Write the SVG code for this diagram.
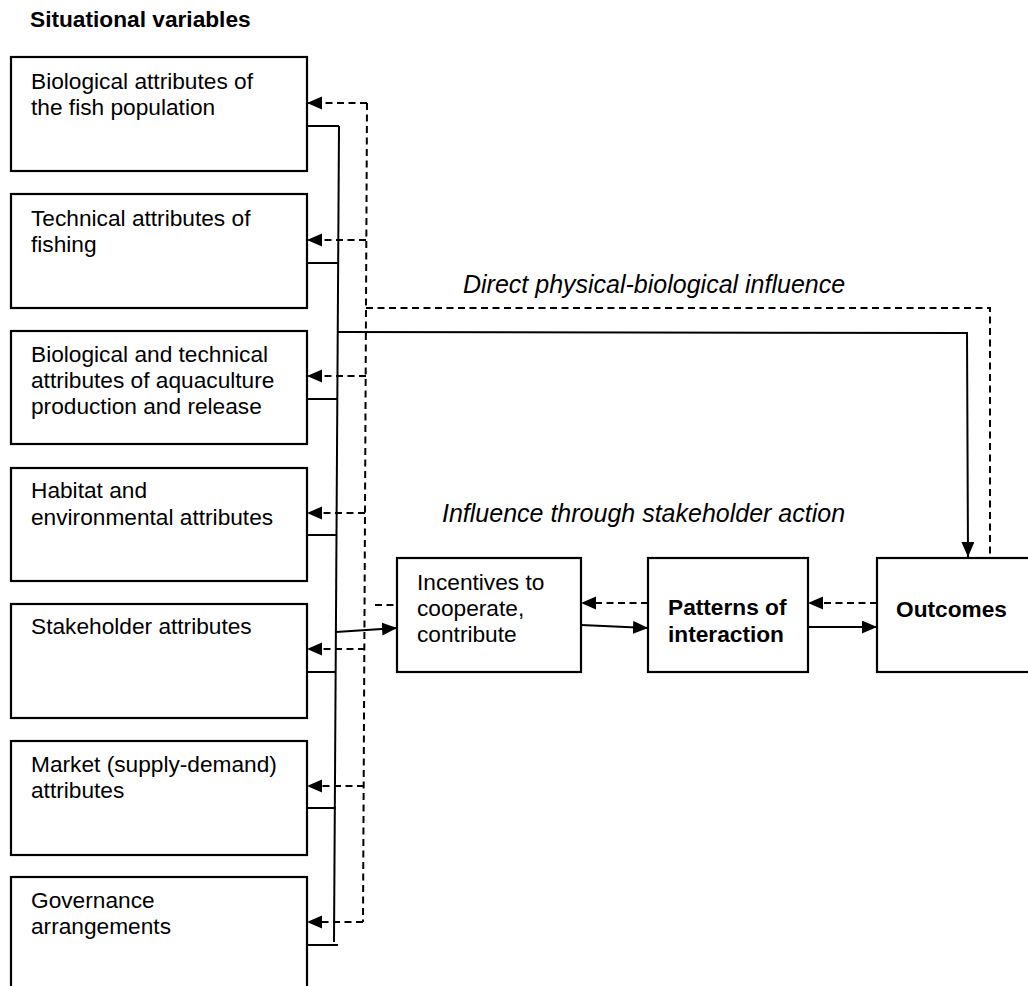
<svg xmlns="http://www.w3.org/2000/svg" width="1028" height="986" viewBox="0 0 1028 986">
<style>
text{font-family:"Liberation Sans",Arial,sans-serif;font-size:22.7px;fill:#000}
.b{font-weight:bold}
.i{font-style:italic;font-size:25px}
.box{fill:#fff;stroke:#000;stroke-width:2.2}
.s{fill:none;stroke:#000;stroke-width:2}
.d{fill:none;stroke:#000;stroke-width:2;stroke-dasharray:7,4.5}
</style>
<defs>
<marker id="ah" markerUnits="userSpaceOnUse" markerWidth="16" markerHeight="14" refX="15" refY="6.5" orient="auto">
<path d="M0,0 L15,6.5 L0,13 z" fill="#000"/>
</marker>
</defs>
<text class="b" x="30" y="27">Situational variables</text>
<g id="n1"><rect class="box" x="11" y="57" width="296" height="114"/><text x="31" y="89">Biological attributes of</text><text x="31" y="115">the fish population</text></g>
<g id="n2"><rect class="box" x="11" y="194" width="296" height="114"/><text x="31" y="226">Technical attributes of</text><text x="31" y="252">fishing</text></g>
<g id="n3"><rect class="box" x="11" y="331" width="296" height="113"/><text x="31" y="362">Biological and technical</text><text x="31" y="388">attributes of aquaculture</text><text x="31" y="414">production and release</text></g>
<g id="n4"><rect class="box" x="11" y="468" width="296" height="113"/><text x="31" y="498">Habitat and</text><text x="31" y="525">environmental attributes</text></g>
<g id="n5"><rect class="box" x="11" y="604" width="296" height="114"/><text x="31" y="634">Stakeholder attributes</text></g>
<g id="n6"><rect class="box" x="11" y="741" width="296" height="114"/><text x="31" y="772">Market (supply-demand)</text><text x="31" y="798">attributes</text></g>
<g id="n7"><rect class="box" x="11" y="877" width="296" height="130"/><text x="31" y="908">Governance</text><text x="31" y="934">arrangements</text></g>
<g id="incentives"><rect class="box" x="397" y="558" width="184" height="114"/><text x="417" y="590">Incentives to</text><text x="417" y="616">cooperate,</text><text x="417" y="642">contribute</text></g>
<g id="patterns"><rect class="box" x="648" y="558" width="160" height="114"/><text class="b" x="668" y="615">Patterns of</text><text class="b" x="668" y="642">interaction</text></g>
<g id="outcomes"><rect class="box" x="877" y="558" width="160" height="114"/><text class="b" x="896" y="617">Outcomes</text></g>
<text class="i" x="463" y="293">Direct physical-biological influence</text>
<text class="i" x="442" y="522">Influence through stakeholder action</text>
<g id="connectors">
<path class="s" d="M339,126 L334,942"/>
<path class="s" d="M307,126 H339 M307,263 H338 M307,399 H338 M307,535 H337 M307,672 H336 M307,808 H336 M307,945 H338"/>
<path class="s" d="M338,332 L967,333 L968,557" marker-end="url(#ah)"/>
<path class="s" d="M336,632 L397,628" marker-end="url(#ah)"/>
<path class="s" d="M581,625 L648,628" marker-end="url(#ah)"/>
<path class="s" d="M808,627 L877,627" marker-end="url(#ah)"/>
<path class="d" d="M367,103 L363,922"/>
<path class="d" d="M367,103 H307" marker-end="url(#ah)"/>
<path class="d" d="M366,240 H307" marker-end="url(#ah)"/>
<path class="d" d="M366,376 H307" marker-end="url(#ah)"/>
<path class="d" d="M365,513 H307" marker-end="url(#ah)"/>
<path class="d" d="M365,649 H307" marker-end="url(#ah)"/>
<path class="d" d="M364,786 H307" marker-end="url(#ah)"/>
<path class="d" d="M363,922 H307" marker-end="url(#ah)"/>
<path class="d" d="M366,308 H990 V557"/>
<path class="d" d="M375,605 H397"/>
<path class="d" d="M648,603 H581" marker-end="url(#ah)"/>
<path class="d" d="M877,603 H808" marker-end="url(#ah)"/>
</g>
</svg>
